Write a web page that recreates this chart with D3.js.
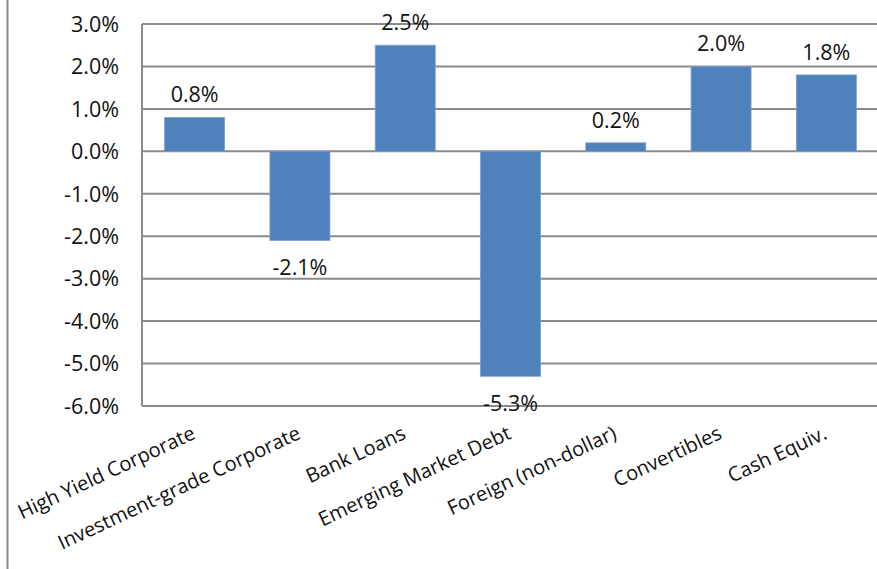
<!DOCTYPE html>
<html>
<head>
<meta charset="utf-8">
<script src="https://cdn.jsdelivr.net/npm/d3@7"></script>
<style>
  html, body { margin: 0; padding: 0; background: #fff; }
  svg { display: block; }
  text { font-family: "Open Sans", "Liberation Sans", sans-serif; fill: #111; }
</style>
</head>
<body>
<svg id="chart" width="877" height="569"></svg>
<script>
// Sector returns, in percent
const categories = [
  "High Yield Corporate",
  "Investment-grade Corporate",
  "Bank Loans",
  "Emerging Market Debt",
  "Foreign (non-dollar)",
  "Convertibles",
  "Cash Equiv."
];
const returns = [0.8, -2.1, 2.5, -5.3, 0.2, 2.0, 1.8];
const yTicks = [3, 2, 1, 0, -1, -2, -3, -4, -5, -6];

const svg = d3.select("#chart");
const W = 877, H = 569;
const plot = { left: 142, right: 879, top: 24, bottom: 406 };

// percent with a plain hyphen for negatives
const pct = v => d3.format(".1f")(v).replace("\u2212", "-") + "%";

const x = d3.scaleBand()
  .domain(categories)
  .range([plot.left, plot.right])
  .paddingInner(0.43)
  .paddingOuter(0.215);

const y = d3.scaleLinear()
  .domain([-6, 3])
  .range([plot.bottom, plot.top]);

const gridColor = "#8a8a8a";

// outer frame line on the left
svg.append("line")
  .attr("x1", 7.5).attr("x2", 7.5)
  .attr("y1", 0).attr("y2", H)
  .attr("stroke", gridColor).attr("stroke-width", 2);

// horizontal gridlines
svg.append("g")
  .selectAll("line")
  .data(yTicks)
  .join("line")
  .attr("x1", plot.left).attr("x2", W)
  .attr("y1", d => y(d)).attr("y2", d => y(d))
  .attr("stroke", gridColor).attr("stroke-width", 2);

// value axis line
svg.append("line")
  .attr("x1", plot.left).attr("x2", plot.left)
  .attr("y1", y(3)).attr("y2", y(-6))
  .attr("stroke", gridColor).attr("stroke-width", 2);

// value axis tick labels
svg.append("g")
  .selectAll("text")
  .data(yTicks)
  .join("text")
  .attr("x", 119)
  .attr("y", d => y(d))
  .attr("dy", "0.36em")
  .attr("text-anchor", "end")
  .style("font-size", "21.5px")
  .text(pct);

const data = categories.map((c, i) => ({ cat: c, v: returns[i] }));

// bars
svg.append("g")
  .selectAll("rect")
  .data(data)
  .join("rect")
  .attr("x", d => x(d.cat))
  .attr("width", x.bandwidth())
  .attr("y", d => y(Math.max(0, d.v)))
  .attr("height", d => Math.abs(y(d.v) - y(0)))
  .attr("fill", "#4f81bd")
  .attr("stroke", "#7aa0cf")
  .attr("stroke-width", 0.8);

// value labels
svg.append("g")
  .selectAll("text")
  .data(data)
  .join("text")
  .attr("x", d => x(d.cat) + x.bandwidth() / 2)
  .attr("y", d => d.v >= 0 ? y(d.v) - 15 : y(d.v) + 35)
  .attr("text-anchor", "middle")
  .style("font-size", "21.5px")
  .text(d => pct(d.v));

// rotated category labels
svg.append("g")
  .selectAll("text")
  .data(categories)
  .join("text")
  .attr("transform", d => `translate(${x(d) + x.bandwidth() / 2 + 2},${plot.bottom + 32}) rotate(-25)`)
  .attr("text-anchor", "end")
  .style("font-size", "20px")
  .text(d => d);
</script>
</body>
</html>
